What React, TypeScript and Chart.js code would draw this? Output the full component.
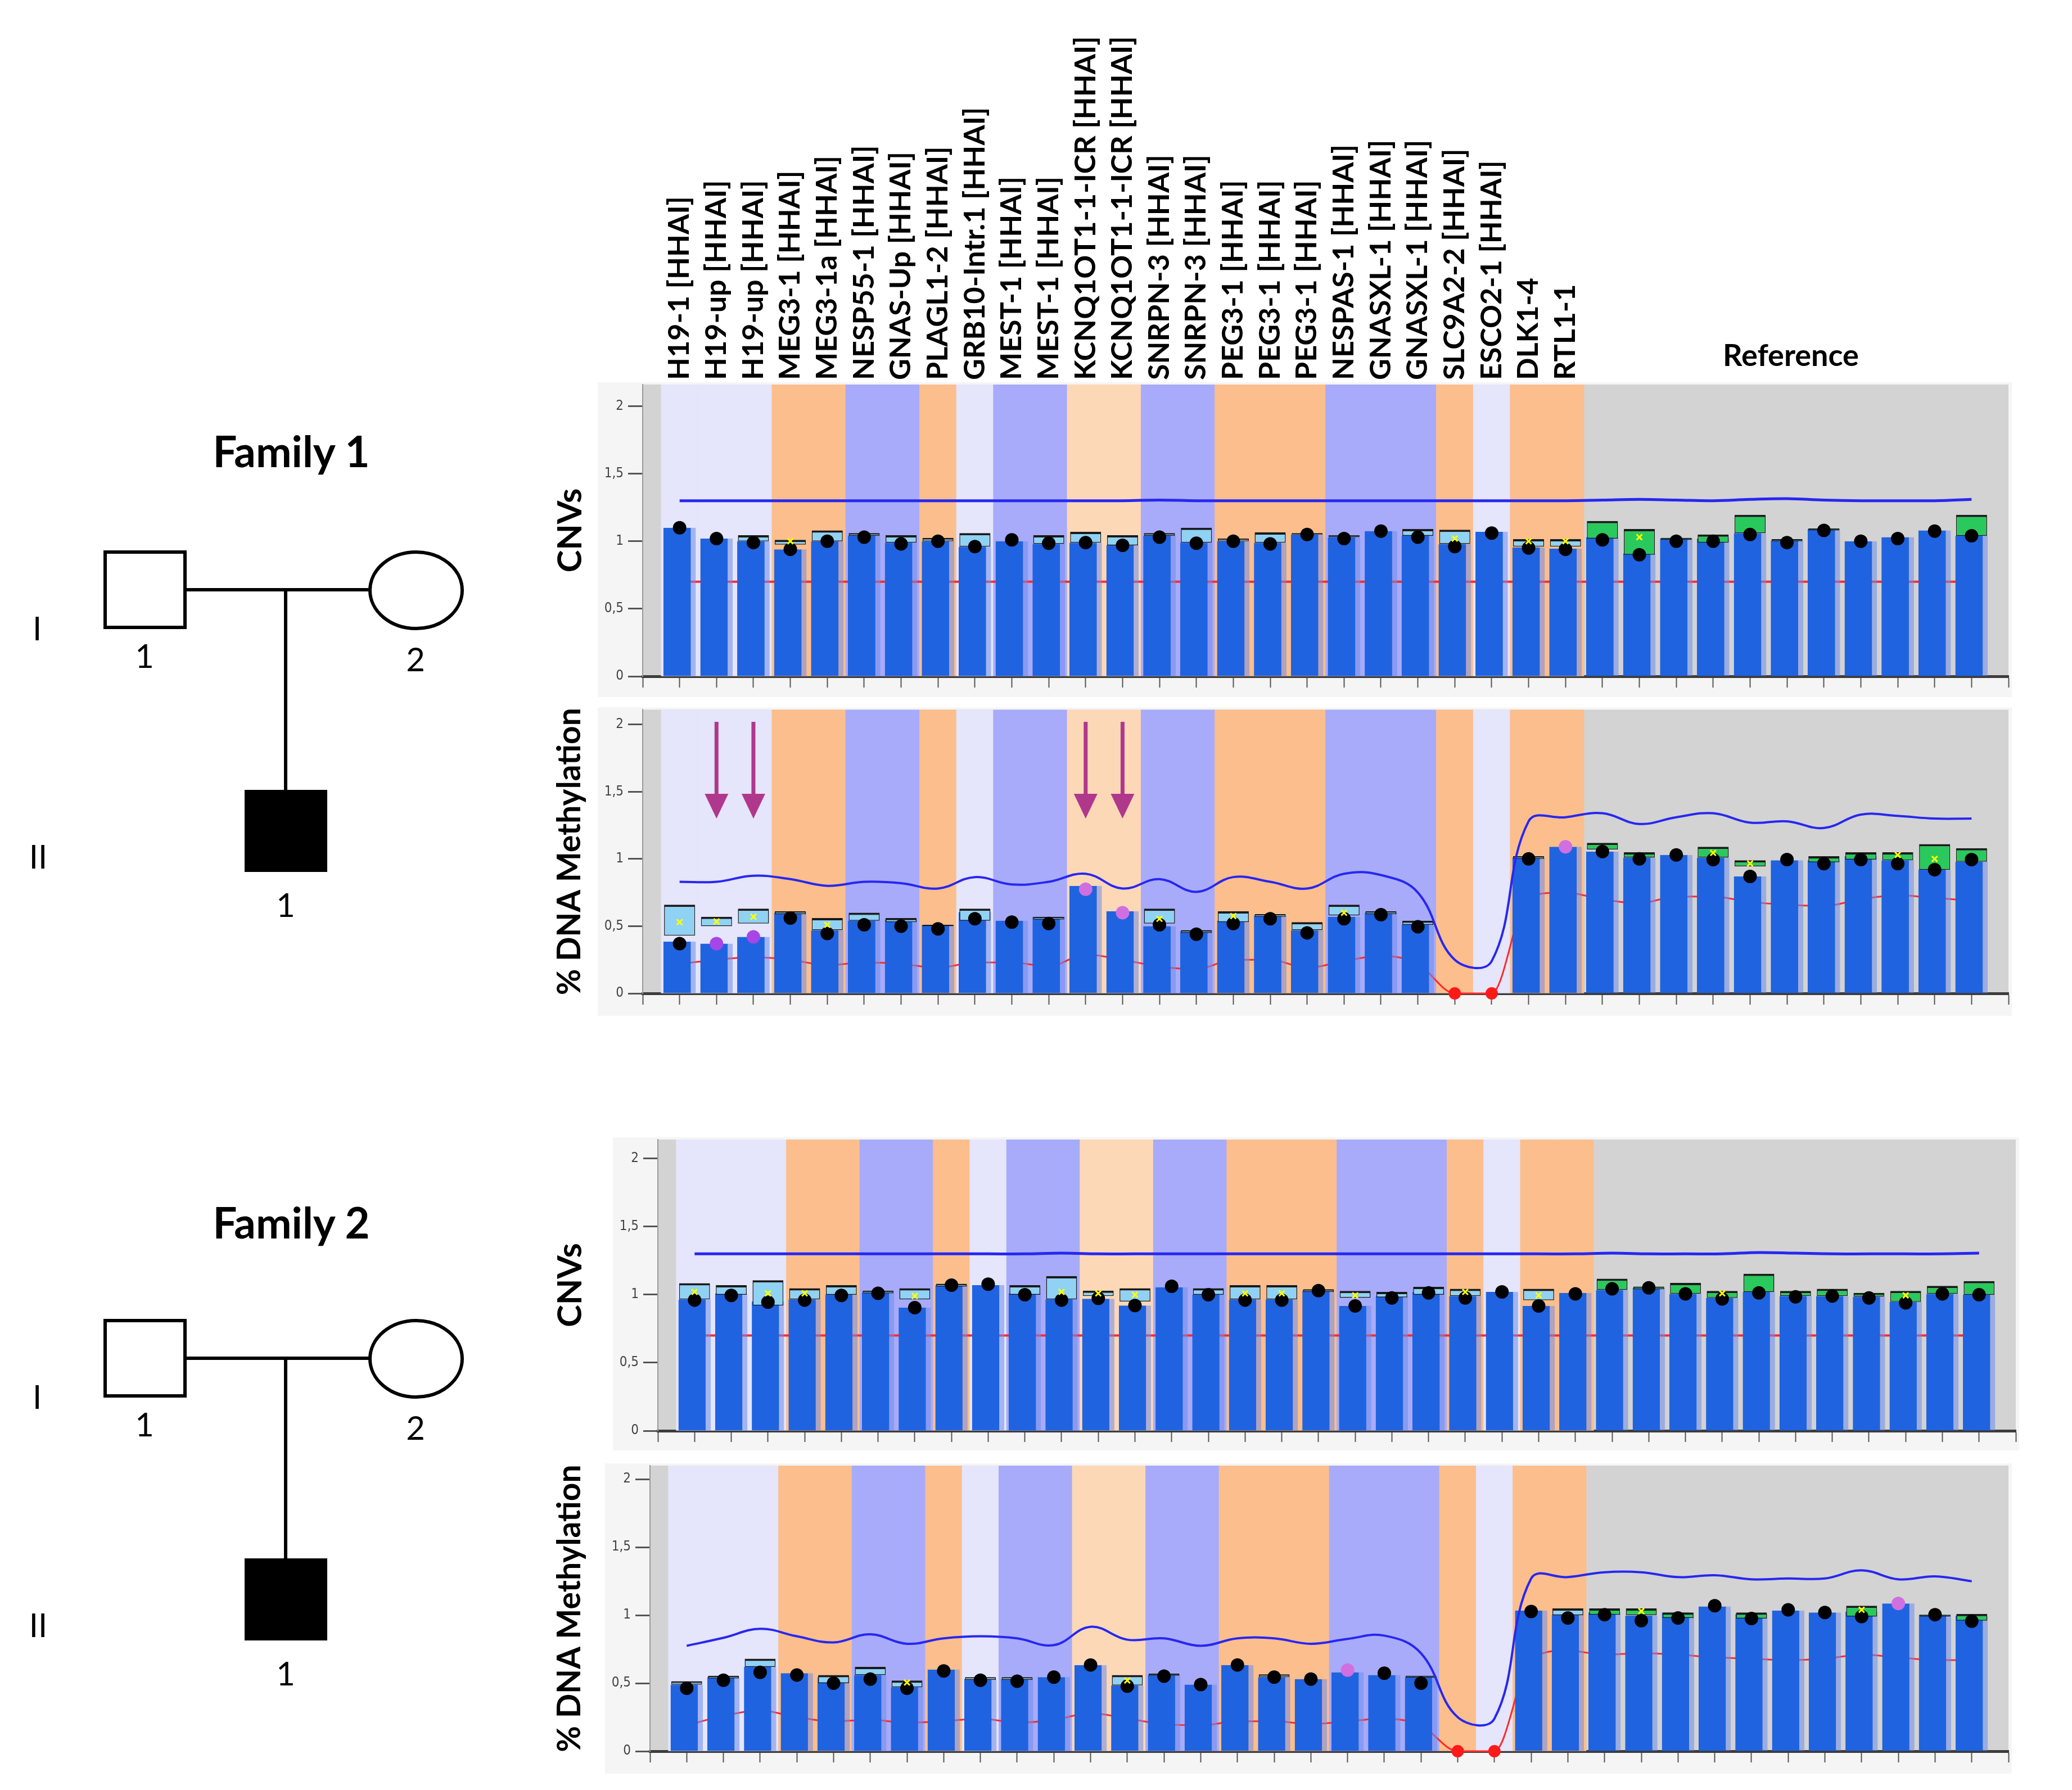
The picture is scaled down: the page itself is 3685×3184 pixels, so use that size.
import React, { useEffect, useRef } from 'react';
import { Chart, registerables } from 'chart.js';

Chart.register(...registerables);

// ---------------- categories ----------------
const geneLabels = [
  'H19-1 [HHAI]', 'H19-up [HHAI]', 'H19-up [HHAI]', 'MEG3-1 [HHAI]', 'MEG3-1a [HHAI]',
  'NESP55-1 [HHAI]', 'GNAS-Up [HHAI]', 'PLAGL1-2 [HHAI]', 'GRB10-Intr.1 [HHAI]', 'MEST-1 [HHAI]',
  'MEST-1 [HHAI]', 'KCNQ1OT1-1-ICR [HHAI]', 'KCNQ1OT1-1-ICR [HHAI]', 'SNRPN-3 [HHAI]', 'SNRPN-3 [HHAI]',
  'PEG3-1 [HHAI]', 'PEG3-1 [HHAI]', 'PEG3-1 [HHAI]', 'NESPAS-1 [HHAI]', 'GNASXL-1 [HHAI]',
  'GNASXL-1 [HHAI]', 'SLC9A2-2 [HHAI]', 'ESCO2-1 [HHAI]', 'DLK1-4', 'RTL1-1',
];
const referenceCount = 11;
const referenceTitle = 'Reference';
// region group of each gene probe (background band)
const geneGroups = ['L', 'L', 'L', 'O', 'O', 'P', 'P', 'O', 'L', 'P', 'P', 'K', 'K', 'P', 'P', 'O', 'O', 'O', 'P', 'P', 'P', 'O', 'L', 'O', 'O'];

const yTickValues = [0, 0.5, 1, 1.5, 2];
const yTickLabels = ['0', '0,5', '1', '1,5', '2'];

// ---------------- Family 1 : CNVs ----------------
const cnv1Bar = [1.10, 1.02, 1.00, 0.94, 1.00, 1.04, 0.99, 1.00, 0.96, 1.00, 0.98, 0.99, 0.97, 1.04, 0.99, 1.00, 0.99, 1.05, 1.03, 1.075, 1.04, 0.98, 1.07, 0.955, 0.945, 1.03, 0.91, 1.02, 1.02, 1.06, 1.005, 1.09, 1.00, 1.03, 1.08, 1.04];
const cnv1Dot = [1.10, 1.02, 0.99, 0.94, 1.00, 1.03, 0.98, 1.00, 0.96, 1.01, 0.985, 0.99, 0.97, 1.03, 0.985, 1.00, 0.98, 1.05, 1.02, 1.075, 1.03, 0.96, 1.06, 0.95, 0.94, 1.01, 0.90, 1.00, 1.00, 1.05, 0.99, 1.08, 1.00, 1.02, 1.075, 1.04];
const cnv1BoxLow = [null, null, 1.0, 0.975, 1.0, 1.04, 0.99, 1.0, 0.96, null, 0.98, 0.99, 0.97, 1.04, 0.99, 1.0, 0.99, 1.05, 1.03, null, 1.04, 0.98, null, 0.96, 0.96, 1.02, 0.9, 1.01, 0.99, 1.06, 1.0, 1.08, null, null, null, 1.04];
const cnv1BoxHigh = [null, null, 1.045, 1.01, 1.08, 1.06, 1.045, 1.025, 1.06, null, 1.045, 1.07, 1.045, 1.06, 1.10, 1.02, 1.065, 1.06, 1.045, null, 1.09, 1.085, null, 1.015, 1.015, 1.15, 1.09, 1.025, 1.05, 1.195, 1.015, 1.095, null, null, null, 1.195];
const cnv1CrossIdx = [3, 21, 23, 24, 26];
const cnv1CrossVal = [1.0, 1.02, 1.0, 1.0, 1.03];
const cnv1Blue = [1.30, 1.30, 1.30, 1.30, 1.30, 1.30, 1.30, 1.30, 1.30, 1.30, 1.30, 1.30, 1.30, 1.305, 1.30, 1.30, 1.30, 1.30, 1.30, 1.30, 1.30, 1.30, 1.30, 1.30, 1.30, 1.305, 1.31, 1.305, 1.30, 1.31, 1.315, 1.305, 1.30, 1.30, 1.30, 1.31];
const cnv1Red = [0.70, 0.70, 0.70, 0.70, 0.70, 0.70, 0.70, 0.70, 0.70, 0.70, 0.70, 0.70, 0.70, 0.70, 0.70, 0.70, 0.70, 0.70, 0.70, 0.70, 0.70, 0.70, 0.70, 0.70, 0.70, 0.70, 0.70, 0.70, 0.70, 0.70, 0.70, 0.70, 0.70, 0.70, 0.70, 0.70];

// ---------------- Family 1 : % DNA methylation ----------------
const meth1Bar = [0.385, 0.37, 0.42, 0.60, 0.47, 0.54, 0.55, 0.51, 0.605, 0.54, 0.57, 0.80, 0.61, 0.50, 0.46, 0.54, 0.58, 0.47, 0.57, 0.60, 0.51, null, null, 1.01, 1.09, 1.055, 1.01, 1.03, 1.01, 0.87, 0.99, 0.99, 1.02, 0.99, 0.92, 0.98];
const meth1Dot = [0.37, 0.37, 0.42, 0.56, 0.445, 0.51, 0.50, 0.48, 0.555, 0.53, 0.52, 0.775, 0.60, 0.51, 0.44, 0.52, 0.555, 0.45, 0.555, 0.585, 0.495, null, null, 1.0, 1.09, 1.055, 1.0, 1.03, 0.995, 0.87, 0.995, 0.965, 0.995, 0.965, 0.92, 0.995];
const meth1BoxLow = [0.43, 0.50, 0.52, 0.59, 0.47, 0.54, 0.53, 0.50, 0.54, null, 0.55, null, null, 0.52, 0.45, 0.53, 0.57, 0.47, 0.58, 0.59, 0.51, null, null, 1.00, null, 1.07, 1.01, null, 1.01, 0.945, null, 0.975, 0.995, 0.99, 0.92, 0.98];
const meth1BoxHigh = [0.66, 0.57, 0.63, 0.61, 0.56, 0.60, 0.56, 0.51, 0.63, null, 0.57, null, null, 0.63, 0.47, 0.61, 0.59, 0.53, 0.66, 0.61, 0.54, null, null, 1.02, null, 1.12, 1.05, null, 1.09, 0.99, null, 1.02, 1.05, 1.05, 1.11, 1.08];
const meth1CrossIdx = [0, 1, 2, 4, 13, 15, 18, 28, 29, 33, 34];
const meth1CrossVal = [0.53, 0.535, 0.57, 0.51, 0.555, 0.575, 0.60, 1.045, 0.966, 1.03, 1.0];
const meth1VioletIdx = [1, 2];
const meth1OrchidIdx = [11, 12, 24];
const meth1Blue = [0.83, 0.83, 0.875, 0.85, 0.80, 0.83, 0.82, 0.78, 0.865, 0.81, 0.83, 0.89, 0.78, 0.85, 0.755, 0.865, 0.83, 0.78, 0.89, 0.88, 0.75, 0.25, 0.24, 1.28, 1.31, 1.34, 1.26, 1.31, 1.34, 1.27, 1.28, 1.23, 1.33, 1.32, 1.30, 1.30];
const meth1Red = [0.22, 0.25, 0.27, 0.25, 0.21, 0.23, 0.22, 0.19, 0.23, 0.23, 0.20, 0.29, 0.25, 0.20, 0.18, 0.25, 0.25, 0.19, 0.24, 0.28, 0.22, 0, 0, 0.72, 0.75, 0.70, 0.67, 0.72, 0.72, 0.68, 0.66, 0.65, 0.70, 0.73, 0.71, 0.69];
const meth1ArrowIdx = [1, 2, 11, 12];
const meth1ArrowFrom = 2.02;
const meth1ArrowTo = 1.30;

// ---------------- Family 2 : CNVs ----------------
const cnv2Bar = [0.966, 1.01, 0.95, 0.966, 1.0, 1.015, 0.905, 1.07, 1.07, 1.01, 0.966, 0.97, 0.92, 1.055, 1.0, 0.966, 0.966, 1.03, 0.917, 0.99, 1.02, 0.99, 1.02, 0.917, 1.013, 1.035, 1.05, 1.006, 0.976, 1.02, 0.99, 0.99, 0.985, 0.947, 1.006, 1.0];
const cnv2Dot = [0.96, 0.995, 0.945, 0.96, 0.995, 1.01, 0.905, 1.07, 1.077, 1.0, 0.96, 0.973, 0.92, 1.062, 1.0, 0.96, 0.96, 1.03, 0.917, 0.976, 1.013, 0.976, 1.02, 0.917, 1.006, 1.043, 1.05, 1.006, 0.969, 1.013, 0.984, 0.99, 0.976, 0.94, 1.006, 1.0];
const cnv2BoxLow = [0.966, 1.0, 0.92, 0.966, 1.0, 1.01, 0.966, 1.06, null, 1.0, 0.966, 0.99, 0.95, null, 1.0, 0.966, 0.966, 1.02, 0.977, 0.98, 1.0, 0.99, null, 0.96, null, 1.035, 1.04, 1.006, 0.976, 1.02, 0.99, 0.99, 0.985, 0.947, 1.006, 1.0];
const cnv2BoxHigh = [1.084, 1.07, 1.106, 1.047, 1.07, 1.03, 1.047, 1.08, null, 1.07, 1.136, 1.03, 1.047, null, 1.047, 1.07, 1.07, 1.04, 1.028, 1.02, 1.058, 1.043, null, 1.043, null, 1.117, 1.06, 1.087, 1.028, 1.154, 1.028, 1.043, 1.013, 1.028, 1.065, 1.10];
const cnv2CrossIdx = [0, 2, 3, 6, 10, 11, 12, 15, 16, 18, 21, 23, 28, 33];
const cnv2CrossVal = [1.02, 1.01, 1.01, 0.99, 1.02, 1.01, 1.0, 1.01, 1.01, 0.995, 1.02, 0.995, 1.01, 0.995];
const cnv2Blue = [1.30, 1.30, 1.30, 1.30, 1.30, 1.30, 1.30, 1.30, 1.30, 1.30, 1.305, 1.30, 1.30, 1.30, 1.30, 1.30, 1.30, 1.30, 1.30, 1.30, 1.30, 1.30, 1.30, 1.30, 1.30, 1.305, 1.30, 1.30, 1.30, 1.31, 1.305, 1.30, 1.30, 1.30, 1.30, 1.305];
const cnv2Red = [0.70, 0.70, 0.70, 0.70, 0.70, 0.70, 0.70, 0.70, 0.70, 0.70, 0.70, 0.70, 0.70, 0.70, 0.70, 0.70, 0.70, 0.70, 0.70, 0.70, 0.70, 0.70, 0.70, 0.70, 0.70, 0.70, 0.70, 0.70, 0.70, 0.70, 0.70, 0.70, 0.70, 0.70, 0.70, 0.70];

// ---------------- Family 2 : % DNA methylation ----------------
const meth2Bar = [0.49, 0.545, 0.62, 0.574, 0.545, 0.56, 0.47, 0.60, 0.53, 0.53, 0.545, 0.634, 0.485, 0.56, 0.49, 0.634, 0.545, 0.53, 0.58, 0.56, 0.545, null, null, 1.034, 1.004, 1.02, 0.997, 1.02, 1.064, 1.01, 1.034, 1.02, 1.027, 1.086, 1.004, 0.997];
const meth2Dot = [0.463, 0.522, 0.58, 0.56, 0.50, 0.53, 0.463, 0.59, 0.522, 0.515, 0.545, 0.634, 0.478, 0.552, 0.49, 0.634, 0.545, 0.53, 0.596, 0.574, 0.50, null, null, 1.027, 0.98, 1.004, 0.96, 0.98, 1.07, 0.976, 1.04, 1.02, 0.99, 1.086, 1.004, 0.956];
const meth2BoxLow = [0.49, 0.535, 0.62, null, 0.50, 0.56, 0.47, null, 0.525, 0.525, null, null, 0.485, 0.555, null, null, 0.545, null, null, null, 0.54, null, null, null, 1.0, 1.004, 1.0, 0.98, null, 0.976, null, null, 0.99, null, 0.99, 0.96];
const meth2BoxHigh = [0.515, 0.555, 0.68, null, 0.56, 0.62, 0.52, null, 0.545, 0.545, null, null, 0.56, 0.57, null, null, 0.565, null, null, null, 0.555, null, null, null, 1.05, 1.05, 1.05, 1.02, null, 1.02, null, null, 1.07, null, 1.004, 1.01];
const meth2CrossIdx = [6, 12, 26, 32];
const meth2CrossVal = [0.505, 0.52, 1.03, 1.04];
const meth2OrchidIdx = [18, 33];
const meth2Blue = [0.775, 0.834, 0.90, 0.845, 0.80, 0.86, 0.79, 0.83, 0.845, 0.83, 0.78, 0.915, 0.82, 0.83, 0.775, 0.83, 0.83, 0.79, 0.826, 0.85, 0.72, 0.25, 0.24, 1.27, 1.28, 1.316, 1.316, 1.28, 1.294, 1.264, 1.27, 1.27, 1.33, 1.264, 1.286, 1.25];
const meth2Red = [0.19, 0.26, 0.30, 0.25, 0.22, 0.23, 0.21, 0.22, 0.24, 0.21, 0.23, 0.28, 0.24, 0.20, 0.19, 0.22, 0.22, 0.20, 0.22, 0.24, 0.19, 0, 0, 0.68, 0.74, 0.71, 0.72, 0.71, 0.69, 0.68, 0.67, 0.68, 0.71, 0.69, 0.67, 0.67];

// ---------------- styles ----------------
const BAND = { L: '#e5e5fb', O: '#fcbe8c', P: '#a8abf9', K: '#fdd8b7' };
const GRAY = '#d3d3d3';
const BAR_BLUE = '#1f63e1';
const BOX_BLUE = '#8fd2f4';
const BOX_GREEN = '#2ac95d';
const VIOLET = '#a746e6';
const ORCHID = '#d06fe0';
const ARROW = '#b0388c';
const LABEL_FONT_SIZE = 52;
const nCat = geneLabels.length + referenceCount;
const xTicks = Array.from({ length: nCat + 2 }, (_, i) => i - 1);

const pts = (arr: (number | null)[]) =>
  arr.map((y, x) => ({ x, y })).filter((p) => p.y !== null && p.y !== undefined);

const backdrop = {
  id: 'backdrop',
  beforeDraw(chart: any) {
    const { ctx, chartArea: a } = chart;
    ctx.save();
    ctx.fillStyle = '#f5f5f5';
    ctx.fillRect(a.left - 80, a.top - 4, a.right - a.left + 86, a.bottom - a.top + 44);
    ctx.fillStyle = GRAY;
    ctx.fillRect(a.left, a.top, a.right - a.left, a.bottom - a.top);
    ctx.restore();
  },
};

const arrows = {
  id: 'arrows',
  afterDatasetsDraw(chart: any, _args: any, opts: any) {
    if (!opts || !opts.idx) return;
    const { ctx } = chart;
    const xs = chart.scales.x;
    const ys = chart.scales.y;
    const y1 = ys.getPixelForValue(opts.from);
    const y2 = ys.getPixelForValue(opts.to);
    const head = 44;
    ctx.save();
    ctx.strokeStyle = ARROW;
    ctx.fillStyle = ARROW;
    ctx.lineWidth = 7;
    opts.idx.forEach((i: number) => {
      const x = xs.getPixelForValue(i);
      ctx.beginPath();
      ctx.moveTo(x, y1);
      ctx.lineTo(x, y2 - head + 4);
      ctx.stroke();
      ctx.beginPath();
      ctx.moveTo(x - 21, y2 - head);
      ctx.lineTo(x + 21, y2 - head);
      ctx.lineTo(x, y2);
      ctx.closePath();
      ctx.fill();
    });
    ctx.restore();
  },
};

type Spec = {
  bar: (number | null)[];
  dot: (number | null)[];
  boxLow: (number | null)[];
  boxHigh: (number | null)[];
  crossIdx: number[];
  crossVal: number[];
  blue: number[];
  red: number[];
  violet?: number[];
  orchid?: number[];
  methyl: boolean;
  title: string;
  titleSize: number;
  yMax: number;
  yWidth: number;
  pad: { left: number; right: number; top: number; bottom: number };
  top?: boolean;
  arrowIdx?: number[];
};

function buildConfig(s: Spec): any {
  const bands = geneGroups.map((g, x) => ({ x, y: s.yMax }));
  const bandColors = geneGroups.map((g) => (BAND as any)[g]);
  const boxes: any[] = [];
  s.boxLow.forEach((lo, x) => {
    const hi = s.boxHigh[x];
    if (lo !== null && hi !== null) boxes.push({ x, y: [lo, hi] });
  });
  const boxColors = boxes.map((b) => (b.x < geneLabels.length ? BOX_BLUE : BOX_GREEN));
  const dots = pts(s.dot);
  const dotColors = dots.map((p) =>
    (s.violet || []).includes(p.x) ? VIOLET : (s.orchid || []).includes(p.x) ? ORCHID : '#000000'
  );
  const crosses = s.crossIdx.map((x, i) => ({ x, y: s.crossVal[i] }));

  const scales: any = {
    x: {
      type: 'linear',
      position: 'bottom',
      min: -1,
      max: nCat,
      offset: false,
      z: 1,
      afterBuildTicks: (sc: any) => {
        sc.ticks = xTicks.map((v) => ({ value: v }));
      },
      ticks: { display: false },
      grid: { offset: false, drawOnChartArea: false, drawTicks: true, tickLength: 20, tickWidth: 2, tickColor: '#555' },
      border: { display: true, color: '#3c3c3c', width: 5 },
      afterFit: (sc: any) => {
        sc.height = 20;
      },
    },
    y: {
      type: 'linear',
      min: 0,
      max: s.yMax,
      afterBuildTicks: (sc: any) => {
        sc.ticks = yTickValues.map((v) => ({ value: v }));
      },
      ticks: {
        callback: (v: number) => yTickLabels[yTickValues.indexOf(v)] ?? '',
        font: { family: 'DejaVu Sans Condensed, DejaVu Sans', size: 24 },
        color: '#444',
        padding: 8,
      },
      grid: { drawOnChartArea: false, tickLength: 26, tickWidth: 3, tickColor: '#555' },
      border: { color: '#9a9a9a', width: 2 },
      title: {
        display: true,
        text: s.title,
        font: { family: 'Lato', weight: 'bold', size: s.titleSize },
        color: '#000',
        padding: { top: 0, bottom: 0 },
      },
      afterFit: (sc: any) => {
        sc.width = s.yWidth;
      },
    },
  };
  if (s.top) {
    scales.xTop = {
      type: 'linear',
      position: 'top',
      min: -1,
      max: nCat,
      offset: false,
      display: true,
      afterBuildTicks: (sc: any) => {
        sc.ticks = xTicks.map((v) => ({ value: v }));
      },
      ticks: {
        autoSkip: false,
        minRotation: 90,
        maxRotation: 90,
        padding: 8,
        labelOffset: LABEL_FONT_SIZE * 1.2,
        font: { family: 'Lato', weight: 'bold', size: LABEL_FONT_SIZE },
        color: '#000',
        callback: (v: number) => geneLabels[Math.round(v)] ?? '',
      },
      grid: { display: false, drawTicks: false },
      border: { display: false },
      afterFit: (sc: any) => {
        sc.height = s.pad.top;
      },
    };
  }

  const datasets: any[] = [
    {
      type: 'bar',
      label: 'bands',
      data: bands,
      backgroundColor: bandColors,
      barPercentage: 1,
      categoryPercentage: 1,
      grouped: false,
      order: 100,
      xAxisID: 'x',
    },
    {
      type: 'line',
      label: 'red',
      data: s.red.map((y, x) => ({ x, y })),
      borderColor: '#ff2a2a',
      borderWidth: s.methyl ? 3 : 4,
      tension: 0.4,
      cubicInterpolationMode: s.methyl ? 'monotone' : 'default',
      pointRadius: s.red.map((v) => (s.methyl && v === 0 ? 11 : 0)),
      pointBackgroundColor: '#ff1a1a',
      pointBorderWidth: 0,
      clip: false,
      order: 50,
      xAxisID: 'x',
    },
    {
      type: 'bar',
      label: 'bars',
      data: pts(s.bar),
      backgroundColor: BAR_BLUE,
      borderColor: 'rgba(110,140,235,0.55)',
      borderWidth: { left: 0, right: 9, top: 0, bottom: 0 },
      borderSkipped: false,
      barPercentage: 0.88,
      categoryPercentage: 1,
      grouped: false,
      order: 40,
      xAxisID: 'x',
    },
    {
      type: 'bar',
      label: 'boxes',
      data: boxes,
      backgroundColor: boxColors,
      borderColor: '#1a1a1a',
      borderWidth: { left: 1.5, right: 1.5, top: 4, bottom: 1.5 },
      borderSkipped: false,
      barPercentage: 0.84,
      categoryPercentage: 1,
      grouped: false,
      order: 30,
      xAxisID: 'x',
    },
    {
      type: 'line',
      label: 'blue',
      data: s.blue.map((y, x) => ({ x, y })),
      borderColor: '#2727f2',
      borderWidth: s.methyl ? 4 : 5,
      tension: 0.4,
      pointRadius: 0,
      order: 20,
      xAxisID: 'x',
    },
    {
      type: 'line',
      label: 'dots',
      data: dots,
      showLine: false,
      pointRadius: 12,
      pointBackgroundColor: dotColors,
      pointBorderWidth: 0,
      order: 10,
      xAxisID: 'x',
    },
    {
      type: 'line',
      label: 'medians',
      data: crosses,
      showLine: false,
      pointStyle: 'crossRot',
      pointRadius: 7,
      pointBorderColor: '#ffff00',
      pointBorderWidth: 3,
      order: 5,
      xAxisID: 'x',
    },
  ];

  return {
    type: 'bar',
    data: { datasets },
    plugins: [backdrop, arrows],
    options: {
      animation: false,
      responsive: false,
      devicePixelRatio: 1,
      layout: { padding: { left: s.pad.left, right: s.pad.right, top: s.top ? 0 : s.pad.top, bottom: s.pad.bottom } },
      plugins: {
        legend: { display: false },
        tooltip: { enabled: false },
        arrows: s.arrowIdx ? { idx: s.arrowIdx, from: meth1ArrowFrom, to: meth1ArrowTo } : {},
      },
      scales,
    },
  };
}

function ChartPanel({ spec, x, y, w, h }: { spec: Spec; x: number; y: number; w: number; h: number }) {
  const ref = useRef<HTMLCanvasElement>(null);
  useEffect(() => {
    const chart = new Chart(ref.current as HTMLCanvasElement, buildConfig(spec));
    return () => chart.destroy();
  }, []);
  return (
    <canvas
      ref={ref}
      width={w}
      height={h}
      style={{ position: 'absolute', left: x, top: y, width: w, height: h }}
    />
  );
}

function Pedigree({ dy, title, titleDy }: { dy: number; title: string; titleDy: number }) {
  const sw = 6;
  const num = { fontFamily: 'Lato', fontSize: 58, textAnchor: 'middle' as const, fill: '#000' };
  return (
    <g transform={`translate(0, ${dy})`}>
      <text x={518} y={831 + titleDy} textAnchor="middle" fontFamily="Lato" fontWeight="bold" fontSize={76} fill="#000">
        {title}
      </text>
      <rect x={187} y={982} width={142} height={134} fill="#fff" stroke="#000" strokeWidth={sw} />
      <line x1={332} y1={1049} x2={658} y2={1049} stroke="#000" strokeWidth={sw} />
      <ellipse cx={740} cy={1050} rx={82} ry={68} fill="#fff" stroke="#000" strokeWidth={sw} />
      <line x1={508} y1={1049} x2={508} y2={1406} stroke="#000" strokeWidth={sw} />
      <rect x={435} y={1405} width={147} height={146} fill="#000" />
      <text x={257} y={1188} {...num}>1</text>
      <text x={739} y={1194} {...num}>2</text>
      <text x={508} y={1631} {...num}>1</text>
      <text x={66} y={1139} {...num}>I</text>
      <text x={68} y={1545} {...num}>II</text>
    </g>
  );
}

const spec1: Spec = {
  bar: cnv1Bar, dot: cnv1Dot, boxLow: cnv1BoxLow, boxHigh: cnv1BoxHigh,
  crossIdx: cnv1CrossIdx, crossVal: cnv1CrossVal, blue: cnv1Blue, red: cnv1Red,
  methyl: false, title: 'CNVs', titleSize: 60, yMax: 2.16, yWidth: 164,
  pad: { left: 19, right: 88, top: 684, bottom: 17 }, top: true,
};
const spec2: Spec = {
  bar: meth1Bar, dot: meth1Dot, boxLow: meth1BoxLow, boxHigh: meth1BoxHigh,
  crossIdx: meth1CrossIdx, crossVal: meth1CrossVal, blue: meth1Blue, red: meth1Red,
  violet: meth1VioletIdx, orchid: meth1OrchidIdx,
  methyl: true, title: '% DNA Methylation', titleSize: 57, yMax: 2.11, yWidth: 164,
  pad: { left: 19, right: 88, top: 15, bottom: 23 }, arrowIdx: meth1ArrowIdx,
};
const spec3: Spec = {
  bar: cnv2Bar, dot: cnv2Dot, boxLow: cnv2BoxLow, boxHigh: cnv2BoxHigh,
  crossIdx: cnv2CrossIdx, crossVal: cnv2CrossVal, blue: cnv2Blue, red: cnv2Red,
  methyl: false, title: 'CNVs', titleSize: 60, yMax: 2.14, yWidth: 191,
  pad: { left: 19, right: 75, top: 27, bottom: 15 },
};
const spec4: Spec = {
  bar: meth2Bar, dot: meth2Dot, boxLow: meth2BoxLow, boxHigh: meth2BoxHigh,
  crossIdx: meth2CrossIdx, crossVal: meth2CrossVal, blue: meth2Blue, red: meth2Red,
  orchid: meth2OrchidIdx,
  methyl: true, title: '% DNA Methylation', titleSize: 57, yMax: 2.10, yWidth: 177,
  pad: { left: 19, right: 88, top: 27, bottom: 45 },
};

export default function App() {
  return (
    <div style={{ position: 'absolute', left: 0, top: 0, width: 3685, height: 3184, background: '#fff', overflow: 'hidden' }}>
      <svg width={3685} height={3184} style={{ position: 'absolute', left: 0, top: 0 }}>
        <Pedigree dy={0} title="Family 1" titleDy={0} />
        <Pedigree dy={1367} title="Family 2" titleDy={5} />
        <text x={3185} y={651} textAnchor="middle" fontFamily="Lato" fontWeight="bold" fontSize={54} fill="#000">
          {referenceTitle}
        </text>
      </svg>
      <ChartPanel spec={spec1} x={960} y={0} w={2700} h={1240} />
      <ChartPanel spec={spec2} x={960} y={1240} w={2700} h={570} />
      <ChartPanel spec={spec3} x={960} y={2000} w={2700} h={580} />
      <ChartPanel spec={spec4} x={960} y={2580} w={2700} h={600} />
    </div>
  );
}
